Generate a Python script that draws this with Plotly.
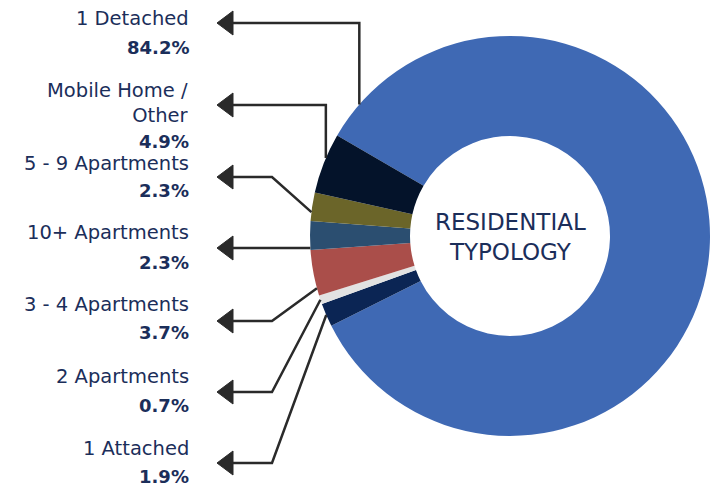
import math
import plotly.graph_objects as go

# ---------------- data ----------------
labels = ["1 Detached", "1 Attached", "2 Apartments", "3 - 4 Apartments",
          "10+ Apartments", "5 - 9 Apartments", "Mobile Home / Other"]
values = [84.2, 1.9, 0.7, 3.7, 2.3, 2.3, 4.9]
colors = ["#3F69B4", "#0B2554", "#E2E2E2", "#AA4E4A", "#2B4E70", "#6B6529", "#04132A"]

# label text rows (left side, top to bottom)
row_names = ["1 Detached", "Mobile Home /<br>Other", "5 - 9 Apartments", "10+ Apartments",
             "3 - 4 Apartments", "2 Apartments", "1 Attached"]
row_slices = ["1 Detached", "Mobile Home / Other", "5 - 9 Apartments", "10+ Apartments",
              "3 - 4 Apartments", "2 Apartments", "1 Attached"]

# ---------------- layout constants (pixels) ----------------
W, H = 714, 487
CX, CY, R = 510, 236, 200
ROTATION = 300.2
HOLE = 0.5

name_y = [19, 103, 163, 233, 304, 376, 448]
pct_y = [47, 141, 190, 262, 332, 405, 476]
arrow_y = [23, 105, 177, 248, 321, 392, 463]
leader_style = ["v", "v", "d", "d", "d", "d", "d"]
leader_frac = [0.036, 0.59, 0.31, 0.07, 0.165, 0.5, 0.5]

TEXT_COLOR = "#1B2E5A"
LINE_COLOR = "#2A2A2A"
FONT = "DejaVu Sans"


def px(x):
    return x / W


def py(y):
    return 1 - y / H


fig = go.Figure(go.Pie(
    labels=labels, values=values, sort=False, direction="clockwise",
    rotation=ROTATION, hole=HOLE, textinfo="none", hoverinfo="label+percent",
    marker=dict(colors=colors, line=dict(width=0)),
    domain=dict(x=[px(CX - R), px(CX + R)], y=[py(CY + R), py(CY - R)]),
    showlegend=False,
))

# slice angle spans (clockwise from 12 o'clock)
total = sum(values)
spans = {}
a = ROTATION
for lab, v in zip(labels, values):
    d = v / total * 360
    spans[lab] = (a, d)
    a += d

shapes = []
annotations = []
for i, sl in enumerate(row_slices):
    y = arrow_y[i]
    start, d = spans[sl]
    th = math.radians(start + leader_frac[i] * d)
    ex = CX + R * math.sin(th)
    ey = CY - R * math.cos(th)
    if leader_style[i] == "v":
        pts = [(231, y), (ex, y), (ex, ey)]
    else:
        pts = [(231, y), (272, y), (ex, ey)]
    path = "M " + " L ".join(f"{px(a_)} {py(b_)}" for a_, b_ in pts)
    shapes.append(dict(type="path", path=path, xref="paper", yref="paper",
                       line=dict(color=LINE_COLOR, width=2.5)))
    tri = [(217, y), (233, y - 12), (233, y + 12)]
    tpath = "M " + " L ".join(f"{px(a_)} {py(b_)}" for a_, b_ in tri) + " Z"
    shapes.append(dict(type="path", path=tpath, xref="paper", yref="paper",
                       fillcolor=LINE_COLOR, line=dict(color=LINE_COLOR, width=1)))

    vidx = labels.index(sl)
    annotations.append(dict(x=px(191), y=py(name_y[i]),
                            xref="paper", yref="paper", xanchor="right", yanchor="middle",
                            text=row_names[i], showarrow=False, align="right",
                            font=dict(family=FONT, size=19.5, color=TEXT_COLOR)))
    annotations.append(dict(x=px(191), y=py(pct_y[i]), xref="paper", yref="paper",
                            xanchor="right", yanchor="middle",
                            text=f"<b>{values[vidx]:.1f}%</b>", showarrow=False,
                            font=dict(family=FONT, size=18, color=TEXT_COLOR)))

annotations.append(dict(x=px(CX), y=py(237), xref="paper", yref="paper",
                        xanchor="center", yanchor="middle",
                        text="RESIDENTIAL<br>TYPOLOGY", showarrow=False,
                        font=dict(family=FONT, size=23, color=TEXT_COLOR)))

fig.update_layout(width=W, height=H, autosize=False,
                  margin=dict(l=0, r=0, t=0, b=0),
                  paper_bgcolor="white", plot_bgcolor="white",
                  shapes=shapes, annotations=annotations)

fig.write_html("out.html", config={"displayModeBar": False},
               post_script="document.body.style.margin='0';")
